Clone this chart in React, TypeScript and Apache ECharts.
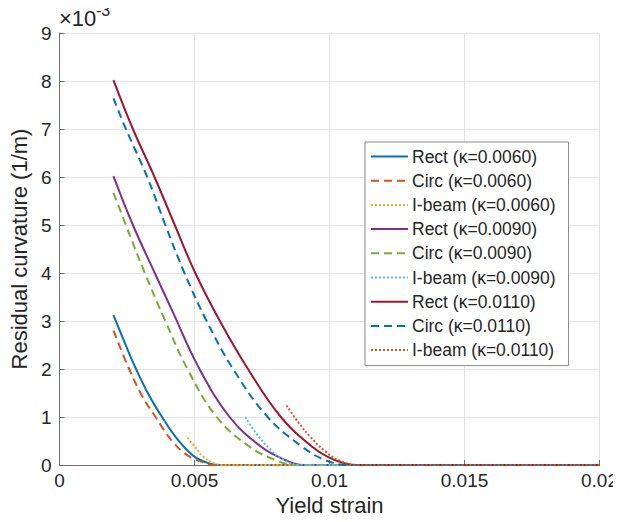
import React, { useEffect, useRef } from "react";
import * as echarts from "echarts";

// x: yield strain, y: residual curvature in units of 1e-3 (1/m)
const rect006X = [0.002, 0.00246, 0.00282, 0.0033, 0.0038, 0.00435, 0.00496, 0.00551, 0.006, 0.0068, 0.02];
const rect006Y = [3.12, 2.49, 2.02, 1.47, 1.0, 0.55, 0.19, 0.04, 0, 0, 0];
const circ006X = [0.002, 0.00258, 0.00305, 0.00356, 0.00417, 0.00472, 0.00533, 0.0057, 0.0065, 0.02];
const circ006Y = [2.8, 2.0, 1.45, 1.0, 0.5, 0.21, 0.05, 0, 0, 0];
const ibeam006X = [0.00475, 0.00502, 0.00533, 0.00575, 0.006, 0.0068, 0.02];
const ibeam006Y = [0.57, 0.38, 0.17, 0.03, 0, 0, 0];
const rect009X = [0.002, 0.00272, 0.00353, 0.00417, 0.00514, 0.0063, 0.00747, 0.00838, 0.009, 0.0098, 0.02];
const rect009Y = [6.02, 5.0, 4.0, 3.22, 2.05, 1.0, 0.38, 0.1, 0, 0, 0];
const circ009X = [0.002, 0.00246, 0.00316, 0.00392, 0.00474, 0.00582, 0.00704, 0.00802, 0.0087, 0.0095, 0.02];
const circ009Y = [5.67, 5.0, 4.0, 3.0, 2.0, 1.0, 0.38, 0.1, 0, 0, 0];
const ibeam009X = [0.00688, 0.00728, 0.00777, 0.00826, 0.0089, 0.0097, 0.02];
const ibeam009Y = [1.0, 0.66, 0.35, 0.12, 0, 0, 0];
const rect011X = [0.002, 0.00272, 0.00352, 0.00427, 0.00503, 0.00594, 0.00698, 0.0082, 0.00936, 0.0102, 0.011, 0.0118, 0.02];
const rect011Y = [8.02, 7.0, 6.0, 5.0, 4.0, 3.0, 2.0, 1.0, 0.38, 0.1, 0, 0, 0];
const circ011X = [0.002, 0.00246, 0.00325, 0.00392, 0.00463, 0.00545, 0.00643, 0.00771, 0.00899, 0.00985, 0.0107, 0.0115, 0.02];
const circ011Y = [7.64, 7.0, 6.0, 5.0, 4.0, 3.0, 2.0, 1.0, 0.38, 0.1, 0, 0, 0];
const ibeam011X = [0.00841, 0.00887, 0.0093, 0.00985, 0.01034, 0.011, 0.0118, 0.02];
const ibeam011Y = [1.24, 0.87, 0.58, 0.28, 0.1, 0, 0, 0];

const seriesNames = [
  "Rect (κ=0.0060)",
  "Circ (κ=0.0060)",
  "I-beam (κ=0.0060)",
  "Rect (κ=0.0090)",
  "Circ (κ=0.0090)",
  "I-beam (κ=0.0090)",
  "Rect (κ=0.0110)",
  "Circ (κ=0.0110)",
  "I-beam (κ=0.0110)",
];
const seriesX = [rect006X, circ006X, ibeam006X, rect009X, circ009X, ibeam009X, rect011X, circ011X, ibeam011X];
const seriesY = [rect006Y, circ006Y, ibeam006Y, rect009Y, circ009Y, ibeam009Y, rect011Y, circ011Y, ibeam011Y];
const seriesColors = ["#0072BD", "#D95319", "#EDB120", "#7E2F8E", "#77AC30", "#4DBEEE", "#A2142F", "#0072BD", "#D95319"];
const seriesDash: any[] = ["solid", [8, 5], [2, 2], "solid", [8, 5], [2, 2], "solid", [8, 5], [2, 2]];

const xTickLabels = ["0", "0.005", "0.01", "0.015", "0.02"];
const yTickLabels = ["0", "1", "2", "3", "4", "5", "6", "7", "8", "9"];
const exponentBase = "×10";
const exponentPower = "-3";

const FONT = "Liberation Sans";
const TXT = "#262626";

export default function App() {
  const ref = useRef<HTMLDivElement>(null);
  useEffect(() => {
    if (!ref.current) return;
    const chart = echarts.init(ref.current, undefined, { renderer: "svg" });
    const series = seriesNames.map((name, i) => ({
      name,
      type: "line",
      data: seriesX[i].map((x, j) => [x, seriesY[i][j]]),
      showSymbol: false,
      symbol: "none",
      smooth: 0.4,
      lineStyle: { color: seriesColors[i], width: 2, type: seriesDash[i] },
      itemStyle: { color: seriesColors[i] },
    }));
    chart.setOption({
      animation: false,
      backgroundColor: "#ffffff",
      title: [
        {
          text: exponentBase,
          left: 59,
          top: 7,
          padding: 0,
          textStyle: { fontSize: 22, fontWeight: "normal", color: TXT, fontFamily: FONT },
        },
        {
          text: exponentPower,
          left: 96,
          top: 2,
          padding: 0,
          textStyle: { fontSize: 16, fontWeight: "normal", color: TXT, fontFamily: FONT },
        },
      ],
      grid: { left: 58, right: 18, top: 33, bottom: 57, containLabel: false },
      xAxis: {
        type: "value",
        min: 0,
        max: 0.02,
        interval: 0.005,
        name: "Yield strain",
        nameLocation: "middle",
        nameGap: 29,
        nameTextStyle: { fontSize: 22, color: TXT, fontFamily: FONT },
        axisLine: { show: true, onZero: false, lineStyle: { color: "#6e6e6e", width: 1 } },
        axisTick: { show: true, inside: true, length: 5, lineStyle: { color: "#6e6e6e" } },
        axisLabel: {
          fontSize: 19,
          color: TXT,
          margin: 6,
          fontFamily: FONT,
          formatter: (v: number) => xTickLabels[Math.round(v / 0.005)] ?? "",
        },
        splitLine: { show: true, lineStyle: { color: "#e3e3e3", width: 1 } },
      },
      yAxis: {
        type: "value",
        min: 0,
        max: 9,
        interval: 1,
        name: "Residual curvature (1/m)",
        nameLocation: "middle",
        nameGap: 22,
        nameTextStyle: { fontSize: 22, color: TXT, fontFamily: FONT },
        axisLine: { show: true, onZero: false, lineStyle: { color: "#6e6e6e", width: 1 } },
        axisTick: { show: true, inside: true, length: 5, lineStyle: { color: "#6e6e6e" } },
        axisLabel: {
          fontSize: 19,
          color: TXT,
          margin: 8,
          fontFamily: FONT,
          formatter: (v: number) => yTickLabels[Math.round(v)] ?? "",
        },
        splitLine: { show: true, lineStyle: { color: "#e3e3e3", width: 1 } },
      },
      legend: {
        show: true,
        data: seriesNames,
        orient: "vertical",
        left: 365,
        top: 142,
        itemWidth: 37,
        itemHeight: 14,
        itemGap: 6.2,
        padding: [5.5, 13, 6.5, 5],
        borderColor: "#8a8a8a",
        borderWidth: 1,
        backgroundColor: "#ffffff",
        borderRadius: 0,
        itemStyle: { opacity: 0 },
        textStyle: { fontSize: 17.5, color: TXT, fontFamily: FONT, lineHeight: 17, padding: [0, 0, 0, -1] },
        selectedMode: false,
      },
      series,
    });
    return () => chart.dispose();
  }, []);
  return <div ref={ref} style={{ width: 621, height: 522, margin: -8 }} />;
}
